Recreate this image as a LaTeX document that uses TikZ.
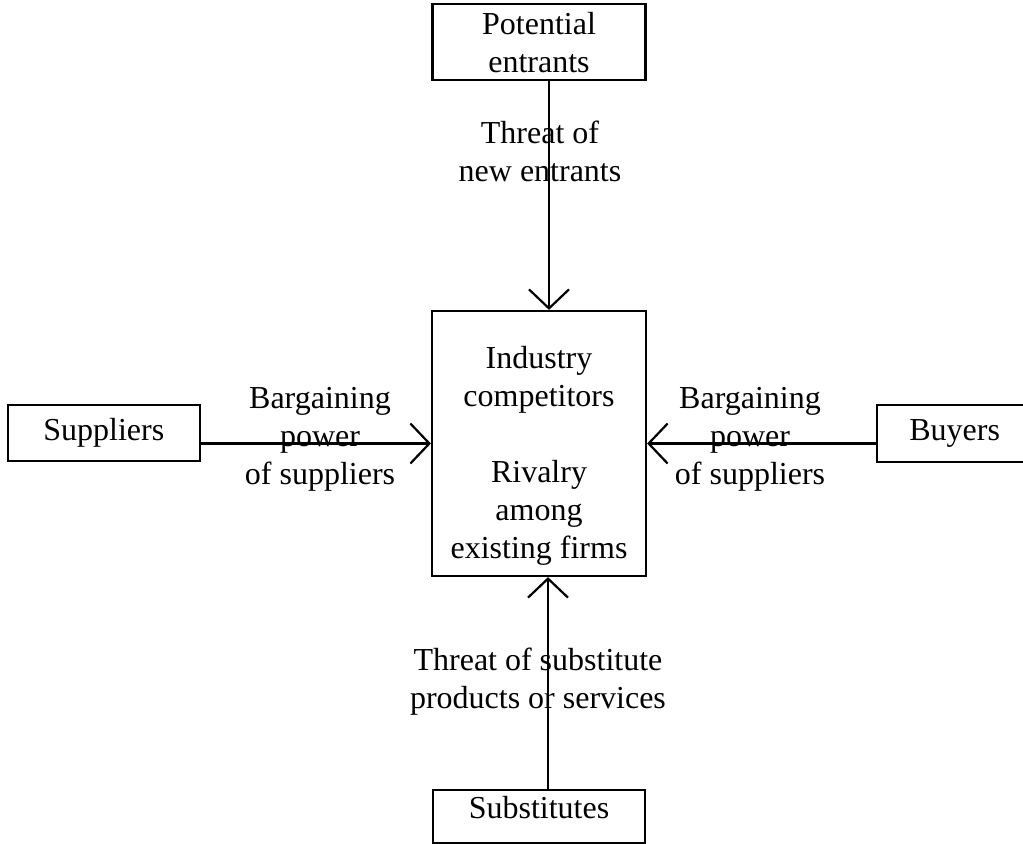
\documentclass[tikz,border=0pt]{standalone}
\usepackage{fontspec}
\setmainfont{Liberation Serif}
\usetikzlibrary{positioning, arrows.meta}

\begin{document}
\begin{tikzpicture}[node distance=114.5pt, font=\fontsize{16}{19}\selectfont]
        \useasboundingbox (0,0) rectangle (511.5pt,-421.5pt);

        % Nodes
        \node (ind) [draw, rectangle, line width=1.1pt, minimum width=107pt, minimum height=132.5pt] at (269.5pt,-221.75pt) {};
        \node (indtext) [align=center, yshift=-6pt] at (ind.center) {Industry\\competitors\\[19pt]Rivalry\\among\\existing firms};

        \node (pe) [above=of ind, draw, rectangle, line width=1.1pt, inner sep=1pt, minimum width=106.5pt, minimum height=37.75pt, align=center] {Potential\\entrants};
        \node (sup) [left=115pt of ind, yshift=5.25pt, draw, rectangle, line width=1.1pt, minimum width=96pt, minimum height=28pt] {Suppliers};
        \node (buy) [right=of ind, yshift=5pt, draw, rectangle, line width=1.1pt, minimum width=77.5pt, minimum height=28.5pt] {Buyers};
        \node (sub) [below=106pt of ind, draw, rectangle, line width=1.1pt, inner ysep=1pt, text depth=9pt, minimum width=106pt, minimum height=26.5pt] {Substitutes};

        % Arrows
        \draw[-{Straight Barb[length=9.5pt, width=20pt]}, line width=1.1pt] ([xshift=5pt]pe.south) -- ([xshift=5pt]ind.north);
        \draw[-{Straight Barb[length=9.5pt, width=20pt]}, line width=1.1pt] ([yshift=-5.25pt]sup.east) -- (ind.west);
        \draw[-{Straight Barb[length=9.5pt, width=20pt]}, line width=1.1pt] ([yshift=-5pt]buy.west) -- (ind.east);
        \draw[-{Straight Barb[length=9.5pt, width=20pt]}, line width=1.1pt] ([xshift=4.5pt]sub.north) -- ([xshift=4.5pt]ind.south);

        % Labels
        \node (newlbl) [align=center] at (270pt,-75.75pt) {Threat of\\new entrants};
        \node (suplbl) [align=center] at (160pt,-219.5pt) {Bargaining\\power\\of suppliers};
        \node (buylbl) [align=center] at (375pt,-219.5pt) {Bargaining\\power\\of suppliers};
        \node (sublbl) [align=center] at (269pt,-341pt) {Threat of substitute\\products or services};

    \end{tikzpicture}
\end{document}
